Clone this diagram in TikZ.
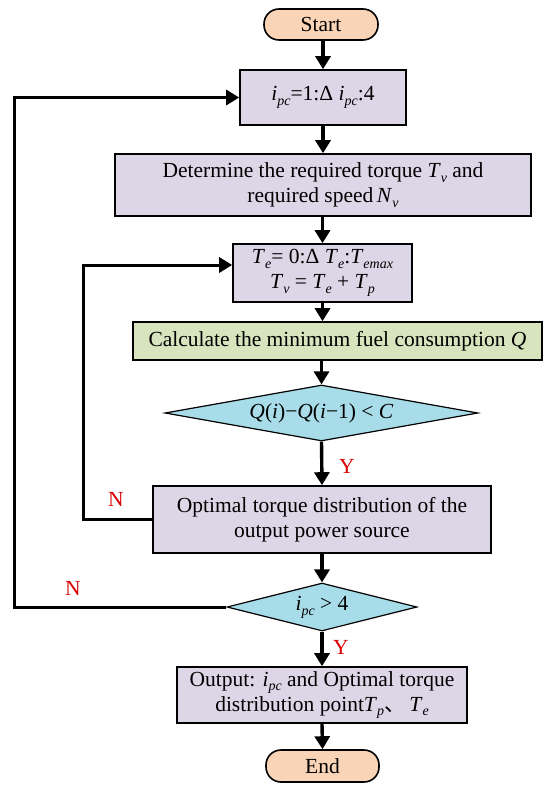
\documentclass[tikz,border=0pt]{standalone}
\usepackage{fontspec}
\setmainfont{Liberation Serif}
\newfontfamily\cjkfont{Noto Sans CJK SC}
\usetikzlibrary{arrows.meta,shapes.geometric}
\definecolor{peach}{HTML}{F9D4B6}
\definecolor{lav}{HTML}{DCD6E6}
\definecolor{grn}{HTML}{D7E4BD}
\definecolor{cyn}{HTML}{A8DCE9}
\definecolor{lblred}{HTML}{D80000}
\newcommand{\ivar}[2]{\textit{#1}\raisebox{-0.5ex}{\fontsize{14}{14}\selectfont\textit{#2}}}
\begin{document}
\begin{tikzpicture}[x=1pt,y=-1pt,
  every node/.style={font=\fontsize{21.5}{25}\selectfont, align=center, inner sep=0pt},
  pill/.style={draw=black, line width=1.6pt, fill=peach, rounded corners=15pt},
  procbox/.style={draw=black, line width=1.6pt, fill=lav},
  calcbox/.style={draw=black, line width=1.6pt, fill=grn},
  decide/.style={draw=black, line width=1.2pt, fill=cyn, shape=diamond},
  flow/.style={line width=3.4pt, -{Triangle[length=13pt,width=15pt]}},
  loopline/.style={line width=3pt, -{Triangle[length=13pt,width=15pt]}},
  lbl/.style={text=lblred}]
\useasboundingbox (0,0) rectangle (550,794);
\node[pill, minimum width=114pt, minimum height=31pt] (start) at (321,24.5) {Start};
\node[procbox, minimum width=166pt, minimum height=55pt] (b1) at (323,97.5) {\ivar{i}{pc}=1:Δ \ivar{i}{pc}:4};
\node[procbox, minimum width=416pt, minimum height=62pt] (b2) at (323,185) {Determine the required torque \ivar{T}{v} and\\required speed\,\ivar{N}{v}};
\node[procbox, minimum width=179pt, minimum height=58pt] (b3) at (322.5,273) {\ivar{T}{e}= 0:Δ \ivar{T}{e}:\ivar{T}{emax}\\\ivar{T}{v} = \ivar{T}{e} + \ivar{T}{p}};
\node[calcbox, minimum width=409pt, minimum height=38pt] (b4) at (337.5,341) {Calculate the minimum fuel consumption \textit{Q}};
\node[decide, minimum width=313pt, minimum height=56pt, shape aspect=5.6] (d1) at (321.5,413) {\textit{Q}(\textit{i})−\textit{Q}(\textit{i}−1) < \textit{C}};
\node[procbox, minimum width=338pt, minimum height=67pt] (b5) at (322,519.5) {Optimal torque distribution of the\\output power source};
\node[decide, minimum width=190pt, minimum height=48pt, shape aspect=4] (d2) at (322,607) {\ivar{i}{pc} > 4};
\node[procbox, minimum width=290pt, minimum height=56pt] (b6) at (322,695) {Output: \ivar{i}{pc} and Optimal torque\\distribution point\ivar{T}{p}{\cjkfont 、}\,\ivar{T}{e}};
\node[pill, minimum width=113pt, minimum height=32pt] (end) at (322.5,766) {End};
\node[lbl] (y1) at (347,466) {Y};
\node[lbl] (n1) at (116,499) {N};
\node[lbl] (n2) at (73,588) {N};
\node[lbl] (y2) at (341,647) {Y};
\coordinate (c1) at (83,519.5);
\coordinate (c2) at (83,265);
\coordinate (c3) at (14,607);
\coordinate (c4) at (14,97.5);
\draw[flow] (start.south -| b1.north) -- (b1.north);
\draw[flow] (b1.south) -- (b2.north);
\draw[flow] (b2.south -| b3.north) -- (b3.north);
\draw[flow] (b3.south) -- (b3.south |- b4.north);
\draw[flow] (b4.south -| d1.north) -- (d1.north);
\draw[flow] (d1.south) -- (b5.north);
\draw[flow] (b5.south) -- (d2.north);
\draw[flow] (d2.south) -- (b6.north);
\draw[flow] (b6.south) -- (end.north);
\draw[loopline] (b5.west) -- (c1) -- (c2) -- (c2 -| b3.west);
\draw[loopline] (d2.west) -- (c3) -- (c4) -- (b1.west);
\end{tikzpicture}
\end{document}
